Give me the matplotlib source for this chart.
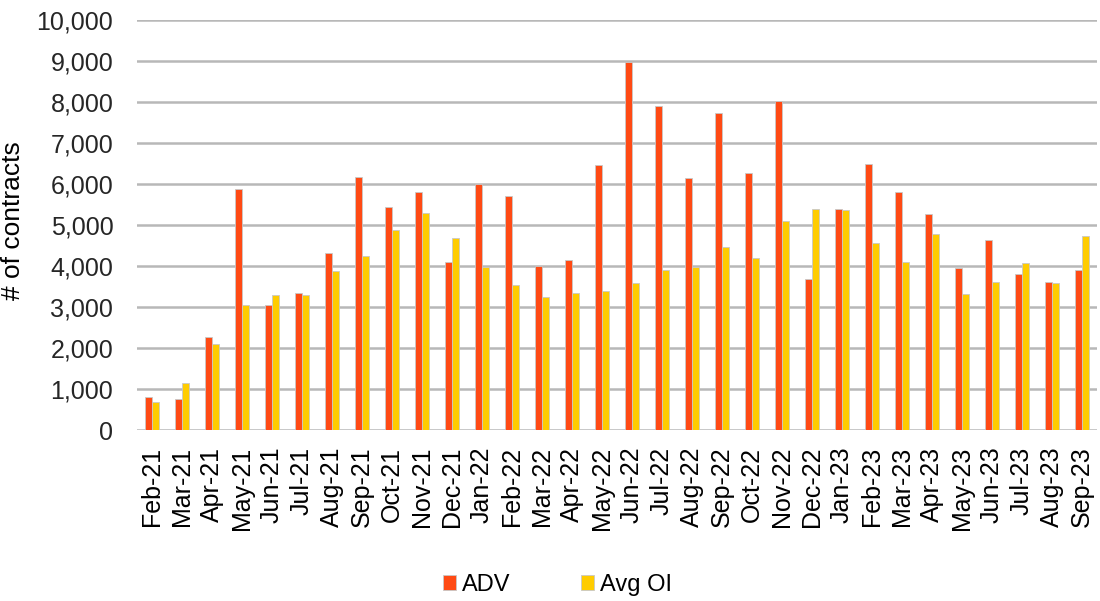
import matplotlib
matplotlib.use("Agg")
import matplotlib.pyplot as plt
import numpy as np
from matplotlib.ticker import FuncFormatter

months = ["Feb-21", "Mar-21", "Apr-21", "May-21", "Jun-21", "Jul-21", "Aug-21", "Sep-21",
          "Oct-21", "Nov-21", "Dec-21", "Jan-22", "Feb-22", "Mar-22", "Apr-22", "May-22",
          "Jun-22", "Jul-22", "Aug-22", "Sep-22", "Oct-22", "Nov-22", "Dec-22", "Jan-23",
          "Feb-23", "Mar-23", "Apr-23", "May-23", "Jun-23", "Jul-23", "Aug-23", "Sep-23"]
adv = [800, 750, 2280, 5870, 3060, 3330, 4310, 6180,
       5430, 5800, 4110, 6000, 5710, 4000, 4150, 6460,
       8970, 7900, 6150, 7740, 6280, 8030, 3680, 5400,
       6500, 5800, 5280, 3960, 4630, 3800, 3620, 3900]
avg_oi = [680, 1140, 2090, 3060, 3290, 3290, 3870, 4240,
          4890, 5290, 4680, 3970, 3530, 3240, 3340, 3400,
          3580, 3900, 3970, 4460, 4190, 5110, 5400, 5370,
          4550, 4110, 4770, 3310, 3620, 4080, 3590, 4720]

plt.rcParams['font.family'] = ['Liberation Sans', 'DejaVu Sans']

fig = plt.figure(figsize=(11, 6.01), dpi=100)
ax = fig.add_axes([0.1245, 0.2845, 0.8725, 0.6822])

x = np.arange(len(months))
w = 0.235
ax.bar(x - w / 2 - 0.005, adv, width=w, color='#FF4A14', edgecolor='#C8C8C8', linewidth=0.6,
       label='ADV', zorder=3)
ax.bar(x + w / 2 + 0.005, avg_oi, width=w, color='#FFCC00', edgecolor='#C8C8C8', linewidth=0.6,
       label='Avg OI', zorder=3)

ax.set_xlim(-0.5, len(months) - 0.5)
ax.set_ylim(0, 10000)
ax.set_yticks(np.arange(0, 10001, 1000))
ax.yaxis.set_major_formatter(FuncFormatter(lambda v, p: f"{int(v):,}"))
ax.yaxis.grid(True, color='#B8B8B8', linewidth=1.8, zorder=0)
ax.set_axisbelow(True)
for s in ax.spines.values():
    s.set_visible(False)
ax.tick_params(axis='y', length=0, pad=17, labelsize=18, labelcolor='#262626')
ax.tick_params(axis='x', length=0, pad=12, labelsize=18, labelcolor='#000000')
ax.set_xticks(x)
ax.set_xticklabels(months, rotation=90)

ax.set_ylabel('# of contracts', fontsize=19, color='#000000')
ax.yaxis.set_label_coords(-0.117, 0.51)

leg = fig.legend(loc='center', bbox_to_anchor=(0.507, 0.027), ncol=2, frameon=False,
                 fontsize=17, handlelength=0.55, handleheight=0.55, handletextpad=0.25,
                 columnspacing=3.0)

fig.savefig('out.png', dpi=100)
